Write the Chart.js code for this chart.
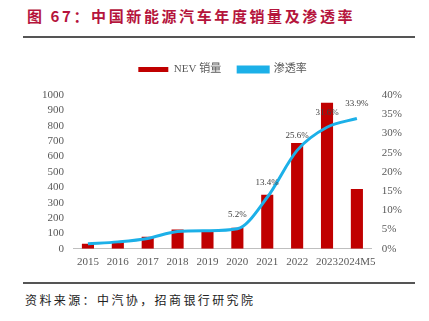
<!DOCTYPE html>
<html><head><meta charset="utf-8">
<script src="https://cdn.jsdelivr.net/npm/chart.js@4/dist/chart.umd.min.js"></script>
<style>
html,body{margin:0;padding:0;background:#fff;width:429px;height:321px;overflow:hidden;}
#title{position:absolute;left:27px;top:5px;font-family:"Noto Sans CJK SC";font-weight:bold;font-size:15px;color:#B5143C;letter-spacing:2.6px;white-space:nowrap;}
.rule{position:absolute;left:23px;width:392px;height:2px;background:#555;}
#src{position:absolute;left:25px;top:291px;font-family:"Noto Sans CJK SC";font-size:12px;color:#222;letter-spacing:2.4px;white-space:nowrap;}
#wrap{position:absolute;left:0;top:47px;width:429px;height:229px;}
</style></head><body>
<div id="title">图 67：中国新能源汽车年度销量及渗透率</div>
<div class="rule" style="top:36px"></div>
<div id="wrap"><canvas id="c"></canvas></div>
<div class="rule" style="top:282px"></div>
<div id="src">资料来源：中汽协，招商银行研究院</div>
<script>
const categories = ["2015","2016","2017","2018","2019","2020","2021","2022","2023","2024M5"];
const salesValues = [33.1, 50.7, 77.7, 125.6, 120.6, 136.7, 352.1, 688.7, 949.5, 389.5];
const penetrationValues = [1.3, 1.8, 2.7, 4.5, 4.7, 5.2, 13.4, 25.6, 31.6, 33.9];
const labelShown = [false,false,false,false,false,true,true,true,true,true];
const leftTicks = [0,100,200,300,400,500,600,700,800,900,1000];
const rightTicks = [0,5,10,15,20,25,30,35,40];

const labelPlugin = {
  id:'pctLabels',
  afterDatasetsDraw(chart){
    const ctx = chart.ctx;
    const meta = chart.getDatasetMeta(1);
    ctx.save();
    ctx.font = '9px "Liberation Serif"';
    ctx.fillStyle = '#404040';
    ctx.textAlign = 'center';
    ctx.textBaseline = 'bottom';
    meta.data.forEach((pt,i)=>{
      if(!labelShown[i]) return;
      ctx.fillText(penetrationValues[i].toFixed(1)+'%', pt.x, pt.y - 10);
    });
    ctx.restore();
  }
};
const legendGap = {
  id:'legendGap',
  beforeInit(chart){
    const orig = chart.legend.fit;
    chart.legend.fit = function(){ orig.call(this); this.height += 10; };
  }
};

new Chart(document.getElementById('c'), {
  data:{
    labels: categories,
    datasets:[
      {type:'bar', label:'NEV 销量', data: salesValues, backgroundColor:'#C00000', borderWidth:0,
       yAxisID:'y', categoryPercentage:0.9, barPercentage:0.45, order:2},
      {type:'line', label:'渗透率', data: penetrationValues, borderColor:'#1CB0E8', backgroundColor:'#1CB0E8',
       borderWidth:3, pointRadius:0, tension:0.4, cubicInterpolationMode:'monotone', yAxisID:'y1', order:1}
    ]
  },
  options:{
    responsive:true, maintainAspectRatio:false, animation:false,
    layout:{padding:{left:33,right:17,top:0,bottom:0}},
    plugins:{
      legend:{position:'top', labels:{boxWidth:30, boxHeight:5, color:'#595959', padding:17,
        sort:(a,b)=>a.datasetIndex-b.datasetIndex,
        font:{family:'"Liberation Serif","Noto Sans CJK SC"', size:11}}},
      tooltip:{enabled:false}
    },
    scales:{
      x:{grid:{display:false, drawTicks:false}, border:{color:'#BFBFBF'},
         ticks:{color:'#595959', padding:7, font:{family:'"Liberation Serif"', size:11}, maxRotation:0, autoSkip:false}},
      y:{position:'left', min:0, max:1000, grid:{display:false, drawTicks:false}, border:{display:false},
         afterBuildTicks(s){ s.ticks = leftTicks.map(v=>({value:v})); },
         ticks:{color:'#595959', padding:9, autoSkip:false, font:{family:'"Liberation Serif"', size:11}, callback:v=>String(v)}},
      y1:{position:'right', min:0, max:40, grid:{display:false, drawTicks:false}, border:{display:false},
         afterBuildTicks(s){ s.ticks = rightTicks.map(v=>({value:v})); },
         ticks:{color:'#595959', padding:10, autoSkip:false, font:{family:'"Liberation Serif"', size:11}, callback:v=>v+'%'}}
    }
  },
  plugins:[labelPlugin, legendGap]
});
</script>
</body></html>
